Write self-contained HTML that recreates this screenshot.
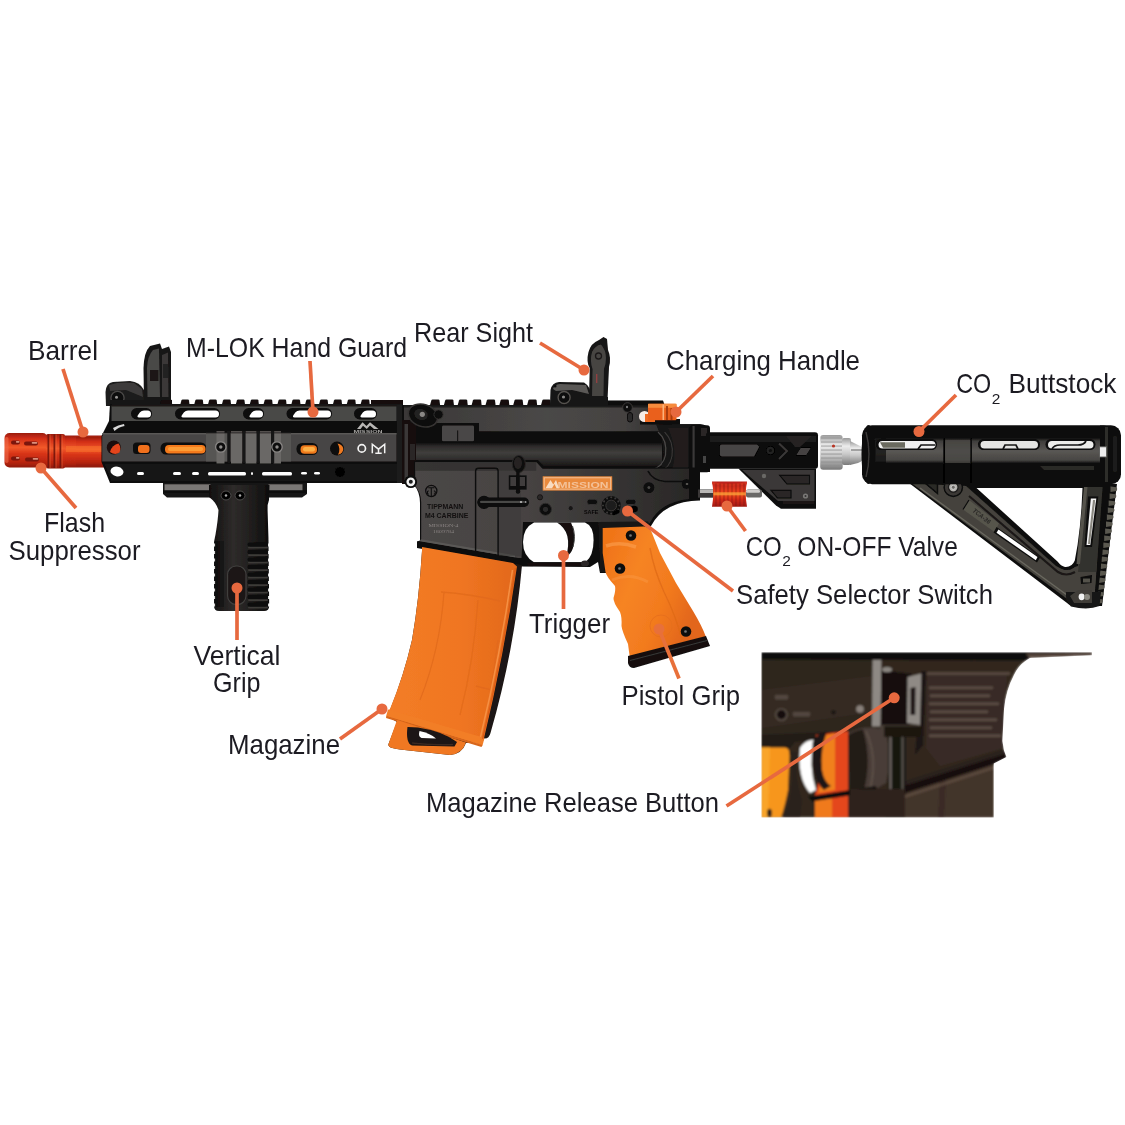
<!DOCTYPE html>
<html lang="en"><head><meta charset="utf-8"><title>Tippmann M4 Carbine parts diagram</title>
<style>html,body{margin:0;padding:0;background:#fff;}body{width:1125px;height:1125px;overflow:hidden;}svg{display:block;}</style>
</head><body>
<svg width="1125" height="1125" viewBox="0 0 1125 1125">
<rect width="1125" height="1125" fill="#fff"/>

<defs>
  <linearGradient id="gBarrel" x1="0" y1="0" x2="0" y2="1">
    <stop offset="0" stop-color="#9a1c0e"/>
    <stop offset="0.16" stop-color="#d22f17"/>
    <stop offset="0.42" stop-color="#f2592a"/>
    <stop offset="0.6" stop-color="#d83418"/>
    <stop offset="0.85" stop-color="#b8240f"/>
    <stop offset="1" stop-color="#8e1a0c"/>
  </linearGradient>
  <linearGradient id="gValve" x1="0" y1="0" x2="0" y2="1">
    <stop offset="0" stop-color="#b8201a"/>
    <stop offset="0.35" stop-color="#e43a1c"/>
    <stop offset="0.5" stop-color="#f0521e"/>
    <stop offset="0.7" stop-color="#d42a18"/>
    <stop offset="1" stop-color="#a01a14"/>
  </linearGradient>
  <linearGradient id="gTube" x1="0" y1="0" x2="0" y2="1">
    <stop offset="0" stop-color="#0c0c0d"/>
    <stop offset="0.25" stop-color="#1a1a1b"/>
    <stop offset="0.55" stop-color="#2b2b2c"/>
    <stop offset="0.8" stop-color="#161617"/>
    <stop offset="1" stop-color="#0a0a0b"/>
  </linearGradient>
  <linearGradient id="gBand" x1="0" y1="0" x2="0" y2="1">
    <stop offset="0" stop-color="#0d0d0d"/>
    <stop offset="0.12" stop-color="#403e3c"/>
    <stop offset="0.5" stop-color="#595754"/>
    <stop offset="0.85" stop-color="#484644"/>
    <stop offset="0.95" stop-color="#1a1a19"/>
    <stop offset="1" stop-color="#0b0b0b"/>
  </linearGradient>
  <linearGradient id="gSilver" x1="0" y1="0" x2="0" y2="1">
    <stop offset="0" stop-color="#9a9a9a"/>
    <stop offset="0.3" stop-color="#ececec"/>
    <stop offset="0.6" stop-color="#c8c8c8"/>
    <stop offset="1" stop-color="#7a7a7a"/>
  </linearGradient>
  <linearGradient id="gUpper" x1="0" y1="0" x2="0" y2="1">
    <stop offset="0" stop-color="#262627"/>
    <stop offset="0.35" stop-color="#2e2e2f"/>
    <stop offset="0.5" stop-color="#0d0d0e"/>
    <stop offset="0.75" stop-color="#1a1a1b"/>
    <stop offset="1" stop-color="#252526"/>
  </linearGradient>
  <linearGradient id="gUpTop" gradientUnits="userSpaceOnUse" x1="402" y1="0" x2="665" y2="0">
    <stop offset="0" stop-color="#3a3837"/>
    <stop offset="0.55" stop-color="#4a4847"/>
    <stop offset="0.85" stop-color="#444241"/>
    <stop offset="1" stop-color="#2e2c2b"/>
  </linearGradient>
  <linearGradient id="gCyl" gradientUnits="userSpaceOnUse" x1="0" y1="442" x2="0" y2="469">
    <stop offset="0" stop-color="#0b0b0b"/>
    <stop offset="0.15" stop-color="#2c2a29"/>
    <stop offset="0.4" stop-color="#403e3d"/>
    <stop offset="0.7" stop-color="#2a2827"/>
    <stop offset="1" stop-color="#0e0e0e"/>
  </linearGradient>
  <linearGradient id="gLowerH" gradientUnits="userSpaceOnUse" x1="414" y1="0" x2="700" y2="0">
    <stop offset="0" stop-color="#4b4746"/>
    <stop offset="0.4" stop-color="#464342"/>
    <stop offset="0.7" stop-color="#363433"/>
    <stop offset="1" stop-color="#282625"/>
  </linearGradient>
  <linearGradient id="gPG" gradientUnits="userSpaceOnUse" x1="600" y1="560" x2="700" y2="600">
    <stop offset="0" stop-color="#f07418"/>
    <stop offset="0.35" stop-color="#f68424"/>
    <stop offset="0.7" stop-color="#f27a1e"/>
    <stop offset="1" stop-color="#e2661a"/>
  </linearGradient>
  <linearGradient id="gMag" x1="0" y1="0" x2="1" y2="0">
    <stop offset="0" stop-color="#f37d26"/>
    <stop offset="0.55" stop-color="#f07622"/>
    <stop offset="1" stop-color="#e2681a"/>
  </linearGradient>
  <linearGradient id="gGrip" x1="0" y1="0" x2="1" y2="0">
    <stop offset="0" stop-color="#100f0f"/>
    <stop offset="0.4" stop-color="#2e2b2a"/>
    <stop offset="0.7" stop-color="#201e1d"/>
    <stop offset="1" stop-color="#0e0d0d"/>
  </linearGradient>
  <filter id="soft" x="-5%" y="-5%" width="110%" height="110%"><feGaussianBlur stdDeviation="0.45"/></filter>
  <filter id="soft2" x="-5%" y="-5%" width="110%" height="110%"><feGaussianBlur stdDeviation="0.9"/></filter>
  <filter id="soft3" x="-10%" y="-10%" width="120%" height="120%"><feGaussianBlur stdDeviation="2.5"/></filter>
</defs>

<g filter="url(#soft)"><rect x="44" y="435.5" width="60" height="32" fill="url(#gBarrel)"/>
<rect x="76" y="437" width="28" height="29.5" fill="url(#gBarrel)"/>
<rect x="4.5" y="433" width="43" height="34.5" rx="5" fill="url(#gBarrel)"/>
<rect x="46" y="434" width="19" height="34.5" rx="2" fill="url(#gBarrel)"/>
<rect x="47.5" y="434.5" width="1.8" height="33.5" fill="#6d1408" opacity="0.85"/>
<rect x="49.5" y="434.5" width="1.2" height="33.5" fill="#f07a4a" opacity="0.35"/>
<rect x="53.5" y="434.5" width="1.8" height="33.5" fill="#6d1408" opacity="0.85"/>
<rect x="55.5" y="434.5" width="1.2" height="33.5" fill="#f07a4a" opacity="0.35"/>
<rect x="59.5" y="434.5" width="1.8" height="33.5" fill="#6d1408" opacity="0.85"/>
<rect x="61.5" y="434.5" width="1.2" height="33.5" fill="#f07a4a" opacity="0.35"/>
<rect x="11" y="440.5" width="9" height="4" rx="2" fill="#7a150a"/>
<rect x="15.9" y="441.1" width="3.6" height="1.6" rx="0.8" fill="#f3b09a" opacity="0.8"/>
<rect x="24" y="441.5" width="14" height="4" rx="2" fill="#7a150a"/>
<rect x="31.7" y="442.1" width="5.6" height="1.6" rx="0.8" fill="#f3b09a" opacity="0.8"/>
<rect x="11" y="456.5" width="9" height="4" rx="2" fill="#7a150a"/>
<rect x="15.9" y="457.1" width="3.6" height="1.6" rx="0.8" fill="#f3b09a" opacity="0.8"/>
<rect x="25" y="457.5" width="14" height="4" rx="2" fill="#7a150a"/>
<rect x="32.7" y="458.1" width="5.6" height="1.6" rx="0.8" fill="#f3b09a" opacity="0.8"/>
<rect x="5" y="437" width="3.5" height="26" rx="1.7" fill="#ee6a4a" opacity="0.6"/>
<rect x="66" y="446" width="38" height="6" fill="#f8742e" opacity="0.55"/>
<path d="M106 406 L105.5 392 Q106 383 113 382 L130 381 Q140 382 144 390 L146 406 Z" fill="#1c1b1a"/>
<path d="M109 385 Q120 381.5 134 383 L142 389 L143 397 L126 390 L110 391Z" fill="#3d3b3a"/>
<path d="M144 402 L143.5 368 Q144 352 150 346 L160 343.5 L162 349 L169 346.5 L171 352 L171 401 Z" fill="#161515"/>
<path d="M147.5 397 L147 368 Q147.5 356 153 350 L159 348.5 L160 397 Z" fill="#4a4847"/>
<path d="M162 397 L162 355 L168 352.5 L168.5 397 Z" fill="#3a3837"/>
<rect x="150" y="370" width="8.5" height="11" fill="#1a1919"/>
<rect x="163" y="364" width="5" height="14" fill="#222120"/>
<circle cx="117.5" cy="398" r="6.6" fill="#0a0a0a" stroke="#4a4847" stroke-width="1.4"/>
<circle cx="116.5" cy="397.3" r="1.5" fill="#9a9896"/>
<rect x="110" y="400" width="62" height="7" fill="#141313"/>
<path d="M159.5 405.5 L160.9 400.4 Q161.2 399.6 162.1 399.6 L170.7 399.6 Q171.5 399.6 171.7 400.4 L172.3 405.5Z" fill="#121111"/><path d="M180.0 405.5 L181.4 400.4 Q181.7 399.6 182.6 399.6 L188.0 399.6 Q188.8 399.6 189.0 400.4 L189.6 405.5Z" fill="#121111"/><path d="M193.9 405.5 L195.3 400.4 Q195.6 399.6 196.5 399.6 L201.9 399.6 Q202.7 399.6 202.9 400.4 L203.5 405.5Z" fill="#121111"/><path d="M207.7 405.5 L209.1 400.4 Q209.4 399.6 210.3 399.6 L215.7 399.6 Q216.5 399.6 216.7 400.4 L217.3 405.5Z" fill="#121111"/><path d="M221.6 405.5 L223.0 400.4 Q223.3 399.6 224.2 399.6 L229.6 399.6 Q230.4 399.6 230.6 400.4 L231.2 405.5Z" fill="#121111"/><path d="M235.5 405.5 L236.9 400.4 Q237.2 399.6 238.1 399.6 L243.5 399.6 Q244.3 399.6 244.5 400.4 L245.1 405.5Z" fill="#121111"/><path d="M249.4 405.5 L250.8 400.4 Q251.1 399.6 252.0 399.6 L257.4 399.6 Q258.2 399.6 258.4 400.4 L259.0 405.5Z" fill="#121111"/><path d="M263.2 405.5 L264.6 400.4 Q264.9 399.6 265.8 399.6 L271.2 399.6 Q272.0 399.6 272.2 400.4 L272.8 405.5Z" fill="#121111"/><path d="M277.1 405.5 L278.5 400.4 Q278.8 399.6 279.7 399.6 L285.1 399.6 Q285.9 399.6 286.1 400.4 L286.7 405.5Z" fill="#121111"/><path d="M291.0 405.5 L292.4 400.4 Q292.7 399.6 293.6 399.6 L299.0 399.6 Q299.8 399.6 300.0 400.4 L300.6 405.5Z" fill="#121111"/><path d="M304.8 405.5 L306.2 400.4 Q306.5 399.6 307.4 399.6 L312.8 399.6 Q313.6 399.6 313.8 400.4 L314.4 405.5Z" fill="#121111"/><path d="M318.7 405.5 L320.1 400.4 Q320.4 399.6 321.3 399.6 L326.7 399.6 Q327.5 399.6 327.7 400.4 L328.3 405.5Z" fill="#121111"/><path d="M332.6 405.5 L334.0 400.4 Q334.3 399.6 335.2 399.6 L340.6 399.6 Q341.4 399.6 341.6 400.4 L342.2 405.5Z" fill="#121111"/><path d="M346.4 405.5 L347.8 400.4 Q348.1 399.6 349.0 399.6 L354.4 399.6 Q355.2 399.6 355.4 400.4 L356.0 405.5Z" fill="#121111"/><path d="M360.3 405.5 L361.7 400.4 Q362.0 399.6 362.9 399.6 L368.3 399.6 Q369.1 399.6 369.3 400.4 L369.9 405.5Z" fill="#121111"/><rect x="371" y="400" width="32" height="5.5" fill="#121111"/><path d="M429.9 405.5 L431.3 400.4 Q431.6 399.6 432.5 399.6 L438.5 399.6 Q439.3 399.6 439.5 400.4 L440.1 405.5Z" fill="#121111"/><path d="M443.8 405.5 L445.2 400.4 Q445.5 399.6 446.4 399.6 L452.4 399.6 Q453.2 399.6 453.4 400.4 L454.0 405.5Z" fill="#121111"/><path d="M457.6 405.5 L459.0 400.4 Q459.3 399.6 460.2 399.6 L466.2 399.6 Q467.0 399.6 467.2 400.4 L467.8 405.5Z" fill="#121111"/><path d="M471.5 405.5 L472.9 400.4 Q473.2 399.6 474.1 399.6 L480.1 399.6 Q480.9 399.6 481.1 400.4 L481.7 405.5Z" fill="#121111"/><path d="M485.4 405.5 L486.8 400.4 Q487.1 399.6 488.0 399.6 L494.0 399.6 Q494.8 399.6 495.0 400.4 L495.6 405.5Z" fill="#121111"/><path d="M499.2 405.5 L500.6 400.4 Q500.9 399.6 501.9 399.6 L507.8 399.6 Q508.6 399.6 508.8 400.4 L509.4 405.5Z" fill="#121111"/><path d="M513.1 405.5 L514.5 400.4 Q514.8 399.6 515.7 399.6 L521.7 399.6 Q522.5 399.6 522.7 400.4 L523.3 405.5Z" fill="#121111"/><path d="M527.0 405.5 L528.4 400.4 Q528.7 399.6 529.6 399.6 L535.6 399.6 Q536.4 399.6 536.6 400.4 L537.2 405.5Z" fill="#121111"/><path d="M540.9 405.5 L542.3 400.4 Q542.6 399.6 543.5 399.6 L549.5 399.6 Q550.3 399.6 550.5 400.4 L551.1 405.5Z" fill="#121111"/>
<path d="M110 404 L403 404 L403 483 L110 483 L101.5 462 L101.5 436 L109 421 Z" fill="#0c0c0c"/>
<rect x="111.5" y="406" width="285" height="15" fill="#4a4847"/>
<rect x="111.5" y="404.3" width="291" height="2.2" fill="#1a1919"/>
<path d="M102.2 436.5 L104 433 L396.5 433 L396.5 461.5 L102.2 461.5Z" fill="#474544"/>
<rect x="102.2" y="433" width="294.3" height="1.5" fill="#5a5856"/>
<path d="M104 464 L397 464 L397 481 L111 481Z" fill="#121212"/>
<rect x="397" y="405" width="6" height="78" fill="#1b1a1a"/>
<rect x="131" y="408" width="21" height="11.5" rx="5.7" fill="#0a0a0a"/>
<path d="M139 417.5 Q136.5 417.5 138 415 L140 412.2 Q141.5 410.4 144 410.4 L147.5 410.4 Q151 410.6 151 414 Q151 417.5 147.5 417.5Z" fill="#fff"/>
<rect x="175" y="408" width="45" height="11.5" rx="5.7" fill="#0a0a0a"/>
<path d="M183 417.5 Q180.5 417.5 182 415 L184 412.2 Q185.5 410.4 188 410.4 L215.5 410.4 Q219 410.6 219 414 Q219 417.5 215.5 417.5Z" fill="#fff"/>
<rect x="243" y="408" width="21" height="11.5" rx="5.7" fill="#0a0a0a"/>
<path d="M251 417.5 Q248.5 417.5 250 415 L252 412.2 Q253.5 410.4 256 410.4 L259.5 410.4 Q263 410.6 263 414 Q263 417.5 259.5 417.5Z" fill="#fff"/>
<rect x="286.5" y="408" width="45.5" height="11.5" rx="5.7" fill="#0a0a0a"/>
<path d="M294.5 417.5 Q292.0 417.5 293.5 415 L295.5 412.2 Q297.0 410.4 299.5 410.4 L327.5 410.4 Q331 410.6 331 414 Q331 417.5 327.5 417.5Z" fill="#fff"/>
<rect x="354" y="408" width="23" height="11.5" rx="5.7" fill="#0a0a0a"/>
<path d="M362 417.5 Q359.5 417.5 361 415 L363 412.2 Q364.5 410.4 367 410.4 L372.5 410.4 Q376 410.6 376 414 Q376 417.5 372.5 417.5Z" fill="#fff"/>
<circle cx="113.8" cy="447.5" r="7" fill="#1a0d0a"/>
<path d="M110 452 Q112 444.5 118.5 443.5 Q121.5 447.5 119.5 452.5 Q115 455.5 110 452Z" fill="#e4441c"/>
<rect x="133" y="442.5" width="17.5" height="11.5" rx="3.5" fill="#0d0d0d"/>
<rect x="138" y="445" width="11.5" height="8" rx="3" fill="#f1701e"/>
<rect x="160.5" y="442.5" width="46" height="12" rx="5.5" fill="#0d0d0d"/>
<rect x="165" y="445" width="40.5" height="8.5" rx="4" fill="#f47a1c"/>
<rect x="168" y="447" width="35" height="4" rx="2" fill="#fd9c35"/>
<rect x="296.5" y="443" width="21.5" height="12" rx="5.5" fill="#0d0d0d"/>
<rect x="300.5" y="445.3" width="16.5" height="8.5" rx="4" fill="#f07a1e"/>
<rect x="303" y="447" width="12" height="4.5" rx="2.2" fill="#fdb044"/>
<circle cx="337" cy="448.6" r="7" fill="#0b0b0b"/>
<path d="M337.5 443.5 Q343 444.5 343.3 449 Q343 453.5 338 454.8 Q341 449 337.5 443.5Z" fill="#ee7a22"/>
<rect x="206" y="433" width="85" height="28.5" fill="#575553"/>
<rect x="216.5" y="431" width="8" height="32.5" fill="#6b6866"/>
<rect x="231" y="431" width="11.3" height="32.5" fill="#6b6866"/>
<rect x="245.4" y="431" width="11.2" height="32.5" fill="#6b6866"/>
<rect x="259.7" y="431" width="11.3" height="32.5" fill="#6b6866"/>
<rect x="273.5" y="431" width="7.5" height="32.5" fill="#6b6866"/>
<rect x="227.3" y="431" width="3.2" height="32.5" fill="#141313"/>
<rect x="242.3" y="431" width="3.2" height="32.5" fill="#141313"/>
<rect x="256.6" y="431" width="3.2" height="32.5" fill="#141313"/>
<rect x="271" y="431" width="3.2" height="32.5" fill="#141313"/>
<rect x="206" y="431.5" width="85" height="2" fill="#1a1919" opacity="0.6"/>
<circle cx="220.8" cy="447" r="5.2" fill="#0d0d0d" stroke="#8a8886" stroke-width="1.3"/>
<circle cx="220.8" cy="447" r="1.7" fill="#8f8d8b"/>
<circle cx="277" cy="447" r="5.2" fill="#0d0d0d" stroke="#8a8886" stroke-width="1.3"/>
<circle cx="277" cy="447" r="1.7" fill="#8f8d8b"/>
<ellipse cx="117" cy="471.5" rx="6.6" ry="4.8" fill="#fff" transform="rotate(12 117 471.5)"/>
<rect x="137" y="472" width="7" height="3" rx="1.5" fill="#fff"/>
<rect x="173" y="472" width="8" height="3" rx="1.5" fill="#fff"/>
<rect x="192" y="472" width="7" height="3" rx="1.5" fill="#fff"/>
<rect x="208" y="472" width="38" height="3.6" rx="1.5" fill="#fff"/>
<rect x="251" y="472" width="2" height="3" rx="1.5" fill="#fff"/>
<rect x="262" y="472" width="30" height="3.6" rx="1.5" fill="#fff"/>
<rect x="301" y="472" width="6" height="2.5" rx="1.5" fill="#fff"/>
<rect x="314" y="472" width="6" height="2.5" rx="1.5" fill="#fff"/>
<circle cx="340" cy="472" r="5" fill="#050505"/>
<path d="M113 428 Q118 425 124 424 L124.5 426 Q118.5 427 114.5 431Z" fill="#d8d8d8"/>
<circle cx="361.8" cy="448.4" r="3.7" fill="none" stroke="#f2f2f2" stroke-width="1.7"/>
<path d="M372.3 453.3 L372.3 444.2 L378.5 449.2 L384.7 444.2 L384.7 453.3 M375.3 453.2 L381.7 453.2 M378.5 449.5 L378.5 453" fill="none" stroke="#f2f2f2" stroke-width="1.5"/>
<path d="M357 429 L362.5 422.3 L366.5 426 L370 422.3 L378.5 429 L374 429 L370 425.6 L366.8 429 L363 425.8 L360.5 429Z" fill="#b8b6b4"/>
<text x="353.5" y="432.8" font-family="'Liberation Sans', Arial, sans-serif" font-weight="bold" font-size="3.6" textLength="29" lengthAdjust="spacingAndGlyphs" fill="#a9a7a5">MISSION</text>
<path d="M163 483 L307 483 L307 494 L302 497.5 L167 497.5 L163 494Z" fill="#141313"/>
<rect x="164.5" y="484.3" width="46" height="6.2" fill="#7a7775"/>
<rect x="268.5" y="484.3" width="34" height="6.2" fill="#7a7775"/>
<rect x="163" y="490.5" width="144" height="1.6" fill="#090909"/>
<path d="M209 485 L269.5 485 L269 500 Q267 505 267.6 510 L268.5 540 L269.2 606 Q269.2 611 264 611 L219 611 Q214 611 214 606 L214 542 L215.6 534 Q218 520 218.5 510 Q216 502 209 497Z" fill="url(#gGrip)"/>
<rect x="247.5" y="542.5" width="19" height="4.2" rx="2.1" fill="#090909"/>
<rect x="248" y="546.7" width="20" height="1.8" rx="0.9" fill="#3c3a39"/>
<rect x="213.2" y="543.5" width="2" height="3" fill="#fff" opacity="0.85"/>
<rect x="268" y="543.5" width="2" height="3" fill="#fff" opacity="0.85"/>
<rect x="247.5" y="550.0" width="19" height="4.2" rx="2.1" fill="#090909"/>
<rect x="248" y="554.2" width="20" height="1.8" rx="0.9" fill="#3c3a39"/>
<rect x="213.2" y="551.0" width="2" height="3" fill="#fff" opacity="0.85"/>
<rect x="268" y="551.0" width="2" height="3" fill="#fff" opacity="0.85"/>
<rect x="247.5" y="557.5" width="19" height="4.2" rx="2.1" fill="#090909"/>
<rect x="248" y="561.7" width="20" height="1.8" rx="0.9" fill="#3c3a39"/>
<rect x="213.2" y="558.5" width="2" height="3" fill="#fff" opacity="0.85"/>
<rect x="268" y="558.5" width="2" height="3" fill="#fff" opacity="0.85"/>
<rect x="247.5" y="565.0" width="19" height="4.2" rx="2.1" fill="#090909"/>
<rect x="248" y="569.2" width="20" height="1.8" rx="0.9" fill="#3c3a39"/>
<rect x="213.2" y="566.0" width="2" height="3" fill="#fff" opacity="0.85"/>
<rect x="268" y="566.0" width="2" height="3" fill="#fff" opacity="0.85"/>
<rect x="247.5" y="572.5" width="19" height="4.2" rx="2.1" fill="#090909"/>
<rect x="248" y="576.7" width="20" height="1.8" rx="0.9" fill="#3c3a39"/>
<rect x="213.2" y="573.5" width="2" height="3" fill="#fff" opacity="0.85"/>
<rect x="268" y="573.5" width="2" height="3" fill="#fff" opacity="0.85"/>
<rect x="247.5" y="580.0" width="19" height="4.2" rx="2.1" fill="#090909"/>
<rect x="248" y="584.2" width="20" height="1.8" rx="0.9" fill="#3c3a39"/>
<rect x="213.2" y="581.0" width="2" height="3" fill="#fff" opacity="0.85"/>
<rect x="268" y="581.0" width="2" height="3" fill="#fff" opacity="0.85"/>
<rect x="247.5" y="587.5" width="19" height="4.2" rx="2.1" fill="#090909"/>
<rect x="248" y="591.7" width="20" height="1.8" rx="0.9" fill="#3c3a39"/>
<rect x="213.2" y="588.5" width="2" height="3" fill="#fff" opacity="0.85"/>
<rect x="268" y="588.5" width="2" height="3" fill="#fff" opacity="0.85"/>
<rect x="247.5" y="595.0" width="19" height="4.2" rx="2.1" fill="#090909"/>
<rect x="248" y="599.2" width="20" height="1.8" rx="0.9" fill="#3c3a39"/>
<rect x="213.2" y="596.0" width="2" height="3" fill="#fff" opacity="0.85"/>
<rect x="268" y="596.0" width="2" height="3" fill="#fff" opacity="0.85"/>
<rect x="247.5" y="602.5" width="19" height="4.2" rx="2.1" fill="#090909"/>
<rect x="248" y="606.7" width="20" height="1.8" rx="0.9" fill="#3c3a39"/>
<rect x="213.2" y="603.5" width="2" height="3" fill="#fff" opacity="0.85"/>
<rect x="268" y="603.5" width="2" height="3" fill="#fff" opacity="0.85"/>
<rect x="215" y="541" width="9" height="66" fill="#0c0c0c" opacity="0.6"/>
<rect x="227.6" y="566" width="18.4" height="38.5" rx="8.5" fill="#1a1918" stroke="#434140" stroke-width="1.1"/>
<ellipse cx="226" cy="495.5" rx="5" ry="4.5" fill="#060606" stroke="#4c4a49" stroke-width="1"/>
<ellipse cx="240" cy="495.5" rx="5" ry="4.5" fill="#060606" stroke="#4c4a49" stroke-width="1"/>
<circle cx="226" cy="495.5" r="1.2" fill="#aaa"/>
<circle cx="240" cy="495.5" r="1.2" fill="#aaa"/>
<path d="M402 405 L608 405 L608 400.6 L663 400.6 L665 406 L672 424.3 L700 424.3 Q710 425 710 434 L710 472 L402 472 Z" fill="#0c0c0c"/>
<path d="M404 407 L662 407 L663.5 431.3 L479 431.3 L479 423 L404 423 Z" fill="url(#gUpTop)"/>
<rect x="404" y="405.5" width="258" height="2" fill="#1d1c1b"/>
<rect x="416" y="442" width="246" height="27" fill="url(#gCyl)"/>
<path d="M416 460 L538 460 L544 466.5 L662 466.5 L662 469.5 L542 469.5 L536 463 L416 463Z" fill="#0a0a0a"/>
<rect x="402" y="420" width="14" height="64" fill="#121111"/>
<rect x="404.5" y="424" width="3.5" height="56" fill="#3a3837"/>
<rect x="410" y="444" width="5" height="16" fill="#2a2827"/>
<ellipse cx="423" cy="415.5" rx="15" ry="11" fill="#0a0a0a" stroke="#353332" stroke-width="1.6" transform="rotate(18 423 415.5)"/>
<ellipse cx="421" cy="414.5" rx="7" ry="5.5" fill="#242221" transform="rotate(18 421 414.5)"/>
<circle cx="422.3" cy="414.3" r="2.6" fill="#8a8886"/>
<circle cx="438.5" cy="414.5" r="4.6" fill="#0a0a0a" stroke="#353332" stroke-width="1"/>
<rect x="440.5" y="423.3" width="36" height="20" rx="2" fill="#0a0a0a"/>
<rect x="442" y="425.6" width="32" height="15.7" rx="1.2" fill="#4a4746"/>
<rect x="457" y="430.5" width="1.2" height="10.8" fill="#141313"/>
<path d="M656 424.3 L700 424.3 Q710 425 710 434 L710 472 L660 472 Q668 450 656 424.3Z" fill="#141313"/>
<path d="M658 432 Q667.5 440 665.5 455 Q663.5 466 652 470" fill="none" stroke="#4a4847" stroke-width="1.3"/>
<path d="M664.5 432 Q674 441 672 456 Q670 468 659 472" fill="none" stroke="#3a3837" stroke-width="1.2"/>
<path d="M668 428 L688 428 L688 470 L672 470 Q678 450 668 428Z" fill="#201f1e"/>
<rect x="689.5" y="425.3" width="20.5" height="47" rx="3" fill="#0e0e0e"/>
<rect x="692.5" y="426" width="2.2" height="45" fill="#3a3837"/>
<rect x="701" y="428" width="6" height="8" fill="#2a2827"/>
<rect x="703" y="456" width="5" height="7" fill="#444"/>
<circle cx="627.5" cy="407.5" r="4.8" fill="#0a0a0a" stroke="#3f3d3c" stroke-width="1"/>
<circle cx="627" cy="407" r="1.2" fill="#777"/>
<rect x="627.5" y="412.5" width="5" height="9.5" rx="2.5" fill="#2c2a29" stroke="#0a0a0a" stroke-width="1"/>
<path d="M414 461 L537 461 L543 467.5 L700 467.5 L700 500.5 Q664 501 651 526 L606 527 L606 573 L600 573 L598 562 L590 567 L523 566.5 L523 560 L515 561 L417 545 L417 541.5 L420 540.5 L420 503 Q420 492 414 485 Z" fill="#0c0c0c"/>
<path d="M415.2 462.3 L536.5 462.3 L542.5 468.8 L689 468.8 L689 499 Q660 502 649.5 523.5 L604 525.5 L598 522 L523 522 L521.5 558 L515.5 558 L421.2 541 L421.2 502 Q421 492.5 415.2 486 Z" fill="url(#gLowerH)"/>
<rect x="415.2" y="462.3" width="121" height="8.5" fill="#2f2d2c" opacity="0.75"/>
<path d="M417 541.5 L515 557.5 L523 559 L523 566.5 L515 565.5 L417 548Z" fill="#0a0a0a"/>
<path d="M421 539.3 L515 555.2 L515 557.2 L419.5 541.2Z" fill="#5a5856"/>
<path d="M475.6 553 L475.6 471 Q475.6 468.3 478.5 468.3 L495.2 468.3 Q498.1 468.3 498.1 471 L498.1 556.5" fill="none" stroke="#0d0d0d" stroke-width="1.4"/>
<rect x="499" y="470" width="22" height="86" fill="#3a3736" opacity="0.5"/>
<circle cx="410.8" cy="481.8" r="6.3" fill="#0a0a0a"/>
<circle cx="410.8" cy="481.8" r="3.2" fill="#1a1a1a" stroke="#f4f4f4" stroke-width="2.4"/>
<ellipse cx="518.8" cy="464" rx="6.6" ry="8.6" fill="#0d0d0d" stroke="#2a2827" stroke-width="1"/>
<ellipse cx="518" cy="463" rx="4" ry="6" fill="#262423"/>
<rect x="508.8" y="475.4" width="17.8" height="14.2" fill="#0a0a0a"/>
<rect x="510.3" y="477" width="6" height="9" fill="#3f3d3c"/>
<rect x="519.5" y="477" width="5.5" height="9" fill="#3f3d3c"/>
<rect x="516.3" y="470" width="3.2" height="22" fill="#0a0a0a"/>
<circle cx="518" cy="491.5" r="2.2" fill="#0a0a0a"/>
<rect x="477.5" y="497.5" width="51.5" height="9.5" rx="4.7" fill="#0a0a0a"/>
<circle cx="484" cy="502.4" r="6.6" fill="#0a0a0a"/>
<rect x="480" y="500.8" width="44" height="2.2" rx="1" fill="#4a4847"/>
<circle cx="521" cy="502" r="1.1" fill="#bbb"/>
<circle cx="525.5" cy="502" r="1.1" fill="#999"/>
<rect x="542.7" y="476.3" width="69.5" height="14.3" fill="#e98a3e"/>
<rect x="544.2" y="477.8" width="66.5" height="11.3" fill="none" stroke="#f6cba4" stroke-width="0.8"/>
<text x="557.5" y="487.5" font-family="'Liberation Sans', Arial, sans-serif" font-weight="bold" font-size="8.6" textLength="51" lengthAdjust="spacingAndGlyphs" fill="#f4c298">MISSION</text>
<path d="M545.5 488.3 L550.5 480 L553.3 484.5 L556 480 L559 488.3 L556.5 488.3 L554.5 484 L552 488.3Z" fill="#f8dcc2"/>
<circle cx="545.5" cy="509.3" r="6" fill="#0b0b0b" stroke="#2f2d2c" stroke-width="1"/>
<circle cx="545.5" cy="509.3" r="2.6" fill="#2c2a29"/>
<circle cx="570.7" cy="508.2" r="2.6" fill="#161515" stroke="#4a4847" stroke-width="0.8"/>
<circle cx="540" cy="497.3" r="2.6" fill="#2a2827" stroke="#141313" stroke-width="0.9"/>
<rect x="587" y="499.3" width="10.5" height="5.2" rx="2.6" fill="#0a0a0a" stroke="#3a3837" stroke-width="0.8"/>
<rect x="625.5" y="499.3" width="10.5" height="5.2" rx="2.6" fill="#0a0a0a" stroke="#3a3837" stroke-width="0.8"/>
<circle cx="611.2" cy="505.5" r="9.6" fill="#0a0a0a"/>
<circle cx="611.2" cy="505.5" r="5.4" fill="#1f1e1d" stroke="#3a3837" stroke-width="1"/>
<circle cx="619.4" cy="505.5" r="1.1" fill="#3a3837"/>
<circle cx="618.3" cy="509.6" r="1.1" fill="#3a3837"/>
<circle cx="615.3" cy="512.6" r="1.1" fill="#3a3837"/>
<circle cx="611.2" cy="513.7" r="1.1" fill="#3a3837"/>
<circle cx="607.1" cy="512.6" r="1.1" fill="#3a3837"/>
<circle cx="604.1" cy="509.6" r="1.1" fill="#3a3837"/>
<circle cx="603.0" cy="505.5" r="1.1" fill="#3a3837"/>
<circle cx="604.1" cy="501.4" r="1.1" fill="#3a3837"/>
<circle cx="607.1" cy="498.4" r="1.1" fill="#3a3837"/>
<circle cx="611.2" cy="497.3" r="1.1" fill="#3a3837"/>
<circle cx="615.3" cy="498.4" r="1.1" fill="#3a3837"/>
<circle cx="618.3" cy="501.4" r="1.1" fill="#3a3837"/>
<ellipse cx="616" cy="512.5" rx="4" ry="2" fill="#050505" transform="rotate(-25 616 512.5)"/>
<ellipse cx="634" cy="509" rx="4" ry="3.2" fill="#050505"/>
<circle cx="648.9" cy="487.6" r="5.4" fill="#080808"/>
<circle cx="648.9" cy="487.6" r="1.5" fill="#4a4847"/>
<circle cx="686.6" cy="484" r="4.8" fill="#080808"/>
<circle cx="687" cy="484" r="1.3" fill="#55524f"/>
<path d="M648 471 Q652 480 665 481.5 L688 481.5" fill="none" stroke="#0c0c0c" stroke-width="1.6"/>
<path d="M689 469 L700 469 L700 500 L689 500Z" fill="#0e0e0e"/>
<circle cx="431.3" cy="491" r="5.6" fill="none" stroke="#0c0c0d" stroke-width="1.2"/>
<path d="M428.3 487.8 L434.3 487.8 M431.3 487.8 L431.3 496 M434 490.6 Q436.8 492.3 434 494.4 M428.6 490.6 Q426 492.3 428.6 494.4" fill="none" stroke="#0c0c0d" stroke-width="1.1"/>
<text x="427" y="508.9" font-family="'Liberation Sans', Arial, sans-serif" font-weight="bold" font-size="7" textLength="36.3" lengthAdjust="spacingAndGlyphs" fill="#121111">TIPPMANN</text>
<text x="425" y="518.2" font-family="'Liberation Sans', Arial, sans-serif" font-weight="bold" font-size="7" textLength="43.3" lengthAdjust="spacingAndGlyphs" fill="#121111">M4 CARBINE</text>
<text x="428.4" y="526.6" font-family="'Liberation Serif', serif" font-size="5" textLength="30" lengthAdjust="spacingAndGlyphs" fill="#8a8684">MISSION-4</text>
<text x="432.7" y="533" font-family="'Liberation Serif', serif" font-size="4.8" textLength="21.5" lengthAdjust="spacingAndGlyphs" fill="#85817f">1809784</text>
<text x="584" y="513.8" font-family="'Liberation Sans', Arial, sans-serif" font-weight="bold" font-size="5.6" textLength="14.4" lengthAdjust="spacingAndGlyphs" fill="#080808">SAFE</text>
<path d="M534 522.6 L585 522.6 Q593.6 526 593.6 540 Q593.6 556 585.5 562.2 L534 562.2 Q523 556 523 542 Q523 528 534 522.6Z" fill="#fff"/>
<path d="M526 562.2 L584 562.2 L586 566 L528 566Z" fill="#121111"/>
<ellipse cx="585" cy="563.5" rx="4" ry="3" fill="#2a2827"/>
<path d="M557 522.6 L571 522.6 Q576.5 534 573 548 Q571 554 566 557 Q569.5 545 567.3 536 Q565 527.5 557 522.6Z" fill="#121111"/>
<path d="M572.5 526 Q576 536 573 547" fill="none" stroke="#3a3837" stroke-width="1"/>
<path d="M422 547 L513 563 L522 565 Q514.5 650 490.5 733 Q489 739 484 738.5 L483 741 L466 743 Q462 754 450 755 L400 749.5 Q387 748 388.5 744 L397 722 L387 716 L390 710 Q404 675 412 640 Q419 600 422 551Z" fill="#1c1512"/>
<path d="M422 547 L513 563 L517 566.5 Q503.8 656 483.5 740.5 L387.5 711 L390 709 Q404 675 412 640 Q419 600 422 551Z" fill="url(#gMag)"/>
<path d="M388 709.5 L484.5 738 L482.5 745.5 L386 716.5Z" fill="#f27e28"/>
<path d="M386.5 716 L482.5 745 L481.5 747 L386 718Z" fill="#d8661a"/>
<path d="M397 720 L466 742.5 Q462 754 450 755 L400 749.5 Q387 748 388.5 744Z" fill="#f07822"/>
<path d="M407.5 727 L418 727.5 Q442 731 457 742 L454.5 746.5 L412 745.5 Q405.5 743 407.5 727Z" fill="#1a1412"/>
<path d="M419.5 731 Q430 733 436 738.5 L421.5 738 Q418 736.5 419.5 731Z" fill="#fff"/>
<path d="M412 743 Q432 745.5 453 744.5" fill="none" stroke="#3a2a22" stroke-width="1.5"/>
<path d="M441 592 Q470 594 500 601 M444 592 Q440 650 420 700 M478 600 Q474 660 460 715 M498 640 L491 690 L476 686" fill="none" stroke="#e06a1c" stroke-width="1.3" opacity="0.75"/>
<path d="M512.5 570 Q500.5 655 480.5 737" fill="none" stroke="#f8954a" stroke-width="1.6" opacity="0.85"/>
<path d="M515.5 568 Q502.8 656 482.6 739" fill="none" stroke="#d85a18" stroke-width="1.2" opacity="0.9"/>
<path d="M598 522 L648 521.5 L652 530 L604 530 L605 572 L600 572Z" fill="#141313"/>
<path d="M602.7 528 L644 526.5 Q650 527.5 652 533 L660 553 L676 583 L693 611 Q702 626 706 637 L630 659 L628 644 Q622 631 621.5 626 Q622 617 620 612 Q613 602 613.5 598 Q616 590 615 586 Q606 576 605.5 572 L602.7 553 Z" fill="url(#gPG)"/>
<path d="M628 656 L706 636 L710 646 L634 668 Q629 668 628 663Z" fill="#121111"/>
<path d="M630 660.5 L707 640.5" stroke="#3a3837" stroke-width="1" fill="none"/>
<path d="M650 548 Q654 570 664 592 Q676 616 682 640" fill="none" stroke="#e06a18" stroke-width="1.4" opacity="0.8"/>
<path d="M606 546 Q620 541 636 547" fill="none" stroke="#fba050" stroke-width="3.5" opacity="0.6"/>
<path d="M612 580 Q630 572 648 582" fill="none" stroke="#fba050" stroke-width="3" opacity="0.35"/>
<circle cx="661" cy="626" r="11" fill="none" stroke="#e56e1c" stroke-width="1" opacity="0.8"/>
<circle cx="631" cy="535.5" r="5.3" fill="#111010"/>
<circle cx="630.5" cy="535.5" r="1.3" fill="#777"/>
<circle cx="620" cy="568.5" r="5.3" fill="#111010"/>
<circle cx="619.5" cy="568.5" r="1.3" fill="#777"/>
<circle cx="686" cy="631.5" r="5.3" fill="#111010"/>
<circle cx="685.5" cy="631.5" r="1.3" fill="#777"/>
<path d="M550 405 L550.5 390 Q552 382.5 559 382 L584 382.5 Q590 386 592 396 L608 397 L608 405Z" fill="#161515"/>
<path d="M553 389 Q554 384.5 560 384 L586 385 L589 394 L572 390 L556 391Z" fill="#5a5856"/>
<path d="M589 400 L589.7 368 Q586 362 588.5 352 Q591 343 599 340 L603.5 337 L607 339 L608 350 Q611.5 358 609 367 L607.5 399.5Z" fill="#141313"/>
<path d="M592 396 L592.5 369 Q589.5 360 592 352 Q595 345.5 601 344.5 Q606 350 606 358 Q606 364 604 369 L603.5 396Z" fill="#464443"/>
<circle cx="598.5" cy="356" r="3" fill="none" stroke="#1a1919" stroke-width="1.3"/>
<rect x="596" y="374" width="1.4" height="9" fill="#b04040" opacity="0.7"/>
<circle cx="564.1" cy="397.5" r="6" fill="#0a0a0a" stroke="#55524f" stroke-width="1.4"/>
<circle cx="563.5" cy="397" r="1.6" fill="#8a8886"/>
<circle cx="555" cy="386" r="1.6" fill="#111"/>
<rect x="640" y="419" width="40" height="5.5" fill="#0a0a0a"/>
<ellipse cx="644.5" cy="416.5" rx="5.5" ry="5.5" fill="#f6ece6"/>
<rect x="645" y="414" width="10" height="8" fill="#ee6a20"/>
<rect x="648" y="403.8" width="28.5" height="16.5" rx="1.2" fill="#ea611a"/>
<rect x="648" y="403.8" width="28.5" height="4" fill="#f68b3e"/>
<rect x="662.5" y="404.5" width="1.6" height="15.5" fill="#fbb27c"/>
<rect x="666" y="406" width="2" height="14" fill="#a93c0c"/>
<rect x="670.5" y="408" width="2" height="12" fill="#a93c0c"/>
<rect x="706" y="432.3" width="112" height="36.5" rx="3" fill="#0c0c0c"/>
<rect x="710" y="436" width="106" height="6" fill="#1c1b1a"/>
<path d="M721.5 444 L757.5 444 L760 446.5 L754.5 457 L722 457 Q719.3 457 719.3 454.5 L719.3 446.2 Q719.3 444 721.5 444Z" fill="#474544" stroke="#050505" stroke-width="1.2"/>
<circle cx="770.4" cy="450.5" r="4.3" fill="#232221" stroke="#050505" stroke-width="1.2"/>
<circle cx="770.4" cy="450.5" r="1.6" fill="#0a0a0a"/>
<path d="M779 443.5 L787 451 L779 459" fill="none" stroke="#3a3837" stroke-width="2"/>
<path d="M795.5 455.5 L800.5 447.5 L811.5 447.5 L806.5 455.5Z" fill="#454342" stroke="#050505" stroke-width="1"/>
<path d="M786 436 L812 436 L800 447 L795 447Z" fill="#252423"/>
<path d="M738.4 468.5 L816 468.5 L816 508.8 L781 508.8 L776 505.5Z" fill="#0c0c0c"/>
<path d="M742 470 L814.5 470 L814.5 501 L778 501 Z" fill="#3a3837"/>
<path d="M779.7 475.4 L809.5 475.4 L809.5 484 L787 484Z" fill="#2a2827" stroke="#080808" stroke-width="1.1"/>
<path d="M771 490.3 L791 490.3 L791 498 L777.5 498Z" fill="#2a2827" stroke="#080808" stroke-width="1.1"/>
<rect x="783" y="501" width="31" height="3" fill="#1a1919"/>
<circle cx="764" cy="476" r="2.2" fill="#6a6866"/>
<circle cx="805.5" cy="496" r="2.6" fill="#7a7876"/>
<circle cx="805.5" cy="496" r="1" fill="#333"/>
<rect x="820.2" y="434.9" width="22.5" height="34.8" rx="3" fill="url(#gSilver)"/>
<rect x="821" y="437.5" width="21" height="1.1" fill="#8d8d8d" opacity="0.75"/>
<rect x="821" y="441.5" width="21" height="1.1" fill="#8d8d8d" opacity="0.75"/>
<rect x="821" y="445.5" width="21" height="1.1" fill="#8d8d8d" opacity="0.75"/>
<rect x="821" y="449.5" width="21" height="1.1" fill="#8d8d8d" opacity="0.75"/>
<rect x="821" y="453.5" width="21" height="1.1" fill="#8d8d8d" opacity="0.75"/>
<rect x="821" y="457.5" width="21" height="1.1" fill="#8d8d8d" opacity="0.75"/>
<rect x="821" y="461.5" width="21" height="1.1" fill="#8d8d8d" opacity="0.75"/>
<rect x="821" y="465.5" width="21" height="1.1" fill="#8d8d8d" opacity="0.75"/>
<circle cx="833.5" cy="446" r="1.6" fill="#b83424"/>
<rect x="842" y="438" width="9" height="27" rx="2" fill="url(#gSilver)"/>
<path d="M850 441 L858 445 Q864 447 864 454 Q864 461 858 463 L850 465Z" fill="url(#gSilver)"/>
<rect x="851" y="449" width="12" height="2" fill="#777" opacity="0.6"/>
<rect x="698" y="489.5" width="16" height="8.2" fill="#3a3837"/>
<rect x="700" y="490" width="13" height="3" fill="#b9b7b5"/>
<rect x="746" y="489.5" width="16" height="8" rx="2" fill="#6b6967"/>
<rect x="746" y="490" width="14" height="2.8" rx="1.2" fill="#d0cecc"/>
<path d="M712 481.6 L747 481.6 Q744.6 494 747 506.8 L712 506.8 Q714.4 494 712 481.6Z" fill="url(#gValve)"/>
<path d="M712.3 482 Q729.5 486 746.7 482 L746.7 484.3 Q729.5 488 712.3 484.3Z" fill="#d2301c"/>
<rect x="715.5" y="483.5" width="1" height="22.5" fill="#6e1408" opacity="0.5"/>
<rect x="719.5" y="483.5" width="1" height="22.5" fill="#6e1408" opacity="0.5"/>
<rect x="723.5" y="483.5" width="1" height="22.5" fill="#6e1408" opacity="0.5"/>
<rect x="727.5" y="483.5" width="1" height="22.5" fill="#6e1408" opacity="0.5"/>
<rect x="731.5" y="483.5" width="1" height="22.5" fill="#6e1408" opacity="0.5"/>
<rect x="735.5" y="483.5" width="1" height="22.5" fill="#6e1408" opacity="0.5"/>
<rect x="739.5" y="483.5" width="1" height="22.5" fill="#6e1408" opacity="0.5"/>
<rect x="743.5" y="483.5" width="1" height="22.5" fill="#6e1408" opacity="0.5"/>
<rect x="713.5" y="492.3" width="32" height="3" fill="#fba23a" opacity="0.75"/>
<path d="M905 480 L1108 480 L1104 520 Q1100 570 1097 605 L1084 607.5 L1069 604.5 Z" fill="#111110"/>
<path d="M912 483.5 L966 486 L1056 566 Q1064 571.5 1072 568 L1078 566 L1081 488 L1103 488 L1095 600 L1070 601 Z" fill="#45433d"/>
<path d="M920 488 L1071 598" stroke="#6a685f" stroke-width="1.4" fill="none"/>
<path d="M969 496 L1058 572 Q1066 577 1075 572" stroke="#1a1918" stroke-width="2.2" fill="none"/>
<path d="M971.4 486 L1086 486 Q1084 530 1077.4 562.4 Q1074 571 1064.6 570 Q1060 568.5 1056 563 Z" fill="#0d0d0c"/>
<path d="M976.5 488 L1082.5 488 Q1081 530 1074.8 560.5 Q1072 567.5 1065 567 Q1061 566 1057.5 561.5 Z" fill="#fff"/>
<path d="M1086 487 L1104 487 L1096 572 L1078 572Z" fill="#33312d"/>
<path d="M1084 487 L1087.5 487 L1080 564 L1076.5 564Z" fill="#55534c"/>
<path d="M969 500 L999 523.5 L994.5 532 L963 509.5Z" fill="#56544c"/>
<path d="M963 509.5 L969 500" stroke="#0a0a0a" stroke-width="1.2"/>
<text x="0" y="0" transform="translate(972,511.5) rotate(37.5)" font-family="'Liberation Sans', Arial, sans-serif" font-style="italic" font-weight="bold" font-size="6.5" textLength="21" lengthAdjust="spacingAndGlyphs" fill="#2a2926">TCA-36</text>
<path d="M996.5 527 L1040 557.5 L1037 562.5 L993.5 532.5Z" fill="#0d0d0c"/>
<path d="M998.5 529.5 L1037.5 557 L1035.8 560.2 L996.5 532.8Z" fill="#fff"/>
<path d="M1088 496.5 L1098.3 496.5 L1092 547 L1084.5 547Z" fill="#0d0d0c"/>
<path d="M1090.8 498.5 L1096.3 498.5 L1090.3 545 L1086.5 545Z" fill="#f4f4f4"/>
<path d="M1093 500 L1095.2 500 L1090 544 L1088 544Z" fill="#8a8880"/>
<path d="M1103 482 L1117 484 L1102 606 L1094 606Z" fill="#0f0f0e"/>
<path d="M1110.5 486.5 L1116.5 487.3 Q1118.0 489.1 1116.5 491.1 L1110.5 491.9Z" fill="#5a5850"/>
<path d="M1109.6 493.5 L1115.6 494.3 Q1117.1 496.1 1115.6 498.1 L1109.6 498.9Z" fill="#5a5850"/>
<path d="M1108.7 500.5 L1114.7 501.3 Q1116.2 503.1 1114.7 505.1 L1108.7 505.9Z" fill="#5a5850"/>
<path d="M1107.8 507.5 L1113.8 508.3 Q1115.3 510.1 1113.8 512.1 L1107.8 512.9Z" fill="#5a5850"/>
<path d="M1106.9 514.5 L1112.9 515.3 Q1114.4 517.1 1112.9 519.1 L1106.9 519.9Z" fill="#5a5850"/>
<path d="M1106.0 521.5 L1112.0 522.3 Q1113.5 524.1 1112.0 526.1 L1106.0 526.9Z" fill="#5a5850"/>
<path d="M1105.1 528.5 L1111.1 529.3 Q1112.6 531.1 1111.1 533.1 L1105.1 533.9Z" fill="#5a5850"/>
<path d="M1104.2 535.5 L1110.2 536.3 Q1111.7 538.1 1110.2 540.1 L1104.2 540.9Z" fill="#5a5850"/>
<path d="M1103.3 542.5 L1109.3 543.3 Q1110.8 545.1 1109.3 547.1 L1103.3 547.9Z" fill="#5a5850"/>
<path d="M1102.4 549.5 L1108.4 550.3 Q1109.9 552.1 1108.4 554.1 L1102.4 554.9Z" fill="#5a5850"/>
<path d="M1101.5 556.5 L1107.5 557.3 Q1109.0 559.1 1107.5 561.1 L1101.5 561.9Z" fill="#5a5850"/>
<path d="M1100.6 563.5 L1106.6 564.3 Q1108.1 566.1 1106.6 568.1 L1100.6 568.9Z" fill="#5a5850"/>
<path d="M1099.7 570.5 L1105.7 571.3 Q1107.2 573.1 1105.7 575.1 L1099.7 575.9Z" fill="#5a5850"/>
<path d="M1098.8 577.5 L1104.8 578.3 Q1106.3 580.1 1104.8 582.1 L1098.8 582.9Z" fill="#5a5850"/>
<path d="M1097.9 584.5 L1103.9 585.3 Q1105.4 587.1 1103.9 589.1 L1097.9 589.9Z" fill="#5a5850"/>
<path d="M1097.0 591.5 L1103.0 592.3 Q1104.5 594.1 1103.0 596.1 L1097.0 596.9Z" fill="#5a5850"/>
<path d="M1096.1 598.5 L1102.1 599.3 Q1103.6 601.1 1102.1 603.1 L1096.1 603.9Z" fill="#5a5850"/>
<path d="M1103.5 484 L1109 484 L1097 604 L1094.5 604Z" fill="#0a0a0a"/>
<circle cx="953.3" cy="487.3" r="9.2" fill="#3a3835" stroke="#080808" stroke-width="1.4"/>
<circle cx="953.3" cy="487.3" r="4.8" fill="#b4b2ae" stroke="#1c1b1a" stroke-width="1.3"/>
<circle cx="953.3" cy="487.3" r="2" fill="#6a6865" stroke="#e0e0e0" stroke-width="0.7"/>
<path d="M924.5 482.5 L937.5 483.5 L937.5 493.5Z" fill="#2a2926" stroke="#080808" stroke-width="1.4"/>
<path d="M1066 592 L1101 592 L1099.5 606 Q1088 610.5 1071 606.5 Q1065 601 1066 592Z" fill="#141413"/>
<path d="M1070 596 L1078 590 L1092 590 L1092 603 L1074 603Z" fill="#3f3d38"/>
<ellipse cx="1081.6" cy="596.8" rx="3" ry="3.4" fill="#f2f2f2"/>
<ellipse cx="1087" cy="597" rx="3" ry="3" fill="#8a8880"/>
<path d="M1080.5 577 L1092 575 L1091.5 583 L1081 584Z" fill="#0b0b0b"/>
<rect x="1083" y="578.5" width="7" height="4" fill="#55534c"/>
<rect x="862" y="425.3" width="259" height="59" rx="10" fill="#0b0b0b"/>
<rect x="871" y="438" width="233" height="26" fill="url(#gBand)"/>
<ellipse cx="868.5" cy="454.5" rx="7" ry="29.5" fill="#0a0a0a"/>
<path d="M866 432 Q872 454 866 477" fill="none" stroke="#3a3837" stroke-width="1.5"/>
<path d="M872 440 L886 438 L886 464 L872 470Z" fill="#0b0b0b" opacity="0.7"/>
<path d="M1104 425.5 Q1121 427 1121 445 L1121 466 Q1121 482 1108 484 L1100 484 L1100 425.5Z" fill="#0d0d0d"/>
<rect x="1105" y="427" width="3" height="55" fill="#2e2d2b"/>
<rect x="1113" y="436" width="4" height="36" rx="2" fill="#1f1e1d"/>
<rect x="943.3" y="438" width="1.8" height="45" fill="#050505"/>
<rect x="970.3" y="438" width="1.6" height="45" fill="#050505"/>
<rect x="945.2" y="440" width="25" height="23" fill="#4a4845" opacity="0.7"/>
<path d="M1040 466 L1094 466 L1094 470 L1044 470Z" fill="#2a2927"/>
<rect x="876" y="439" width="61" height="11" rx="5.5" fill="#090909"/>
<rect x="878.5" y="441" width="57" height="7.6" rx="3.8" fill="#f0f0f0"/>
<path d="M880 442.2 L905 442.2 L905 447.8 L883 447.8Z" fill="#6a6a5e"/>
<path d="M918 449 L921 445 L935 445" fill="none" stroke="#141414" stroke-width="1.7"/>
<rect x="978" y="439" width="62" height="11" rx="5.5" fill="#090909"/>
<rect x="980.5" y="441" width="57.5" height="7.6" rx="3.8" fill="#e4e4e2"/>
<path d="M1003 449 L1005 445 L1016 445 L1018 449" fill="none" stroke="#141414" stroke-width="1.7"/>
<rect x="1045.5" y="439" width="50" height="11" rx="5.5" fill="#090909"/>
<rect x="1048" y="441" width="45.5" height="7.6" rx="3.8" fill="#ececea"/>
<path d="M1052 449 Q1054 445 1060 445 L1078 445 Q1084 445 1086 441" fill="none" stroke="#141414" stroke-width="1.7"/>
<rect x="1099.5" y="446.8" width="7" height="10.2" fill="#ededed" stroke="#5a5a58" stroke-width="0.9"/></g>
<clipPath id="insClip"><path d="M761.4 652.2 L1092 652.2 L1092 655.2 L1030 658 Q1019 664 1014 675 Q1006 690 1004 709 L1002.4 741 L1004 750.6 L1006.4 757 L993.8 763.4 L993.8 817.6 L761.4 817.6Z"/></clipPath>
<g clip-path="url(#insClip)"><g filter="url(#soft2)"><path d="M761.4 652.2 L1092 652.2 L1092 655.2 L1030 658 Q1019 664 1014 675 Q1006 690 1004 709 L1002.4 741 L1004 750.6 L1006.4 757 L993.8 763.4 L993.8 817.6 L761.4 817.6Z" fill="#30271f"/>
<path d="M761 659 L873 659 L873 728 L850 735 L761 741Z" fill="#2d251e"/>
<path d="M761 690 L873 676 L873 712 L761 728Z" fill="#352b24"/>
<path d="M761 735 L850 731 L850 740 L795 742 L790 748 L761 748Z" fill="#241c19"/>
<path d="M926.4 673.8 L1007 673.8 L1003 741 L1004 748 L940 766 L926 748Z" fill="#382c25"/>
<path d="M926.4 672 L1010 672 L1010 675 L926.4 675Z" fill="#55463d"/>
<rect x="929" y="686.5" width="64" height="2.6" fill="#7a6a60" opacity="0.55"/>
<rect x="930" y="694.5" width="60" height="2.6" fill="#7a6a60" opacity="0.55"/>
<rect x="929" y="702.5" width="70" height="2.6" fill="#7a6a60" opacity="0.55"/>
<rect x="930" y="710.5" width="58" height="2.6" fill="#7a6a60" opacity="0.55"/>
<rect x="929" y="718.5" width="68" height="2.6" fill="#7a6a60" opacity="0.55"/>
<rect x="930" y="726.5" width="62" height="2.6" fill="#7a6a60" opacity="0.55"/>
<rect x="929" y="734.5" width="72" height="2.6" fill="#7a6a60" opacity="0.55"/>
<path d="M921.5 671 L926.5 671 L923 745 L915 755Z" fill="#1e1714"/>
<path d="M885 796 L994 762 L994 817.6 L885 817.6Z" fill="#43342b"/>
<path d="M940 780 L946 778 L944 817.6 L938 817.6Z" fill="#3a2c25"/>
<path d="M897 788 L1006 753.5 L1006.5 758 L994 764 L899 795Z" fill="#120d0b"/>
<path d="M897 783.5 L1004 749.5 L1006 753.5 L897 788Z" fill="#2a201c"/>
<path d="M899 797 L994 766 L994 769 L899 800Z" fill="#6a564a" opacity="0.6"/>
<path d="M872.6 657.8 L881.4 659.5 L880.5 726.6 L872 726.6Z" fill="#8e8984"/>
<path d="M881 670 L912 674 L910 725 L881 725Z" fill="#15100e"/>
<path d="M907.5 677 L921.4 673.5 L920 725 L907 723Z" fill="#8f8a85"/>
<path d="M910.5 688 L915.5 687 L915.2 715 L910.5 715Z" fill="#1a1412"/>
<path d="M880 725 L921 725 L919 733 L880 733Z" fill="#4a4039"/>
<ellipse cx="887" cy="669.5" rx="5" ry="2.6" fill="#8a8580"/>
<path d="M761.4 747.4 L785 747.4 Q789.6 748.5 789.6 754 L788 790 Q785 806 781 817.6 L761.4 817.6Z" fill="#f7961c"/>
<path d="M761.4 747.4 L770 747.4 L768 817.6 L761.4 817.6Z" fill="#f9a52a"/>
<ellipse cx="769.5" cy="813" rx="2.4" ry="4.2" fill="#2a211e"/>
<path d="M789 752 Q795 770 790 800 L784 817.6 L800 817.6 L802 800 Q794 780 797 752Z" fill="#2a211d"/>
<path d="M800 748 Q806 739 814 740 Q808 765 816 790 L810 793 Q797 778 800 748Z" fill="#fff"/>
<path d="M816 735 L848 731 L848 817.6 L815 817.6 L815 795 Q824 770 816 735Z" fill="#e4461a"/>
<path d="M816 737 L835 733.5 L835 790 L818 793 Q826 770 816 737Z" fill="#f0801e"/>
<path d="M815 800 L832 798 L832 817.6 L815 817.6Z" fill="#f07a1e"/>
<path d="M812.6 742 Q818 731.5 827 731.4 Q820 750 822 770 Q824 782 831 786 L824 790 Q811 780 812.6 742Z" fill="#1d1614"/>
<path d="M848 733 Q866 723 886 731 Q892 760 886 783 L872 791 L850 789Z" fill="#4a3e38"/>
<path d="M848 735 Q856 730 863 729.5 Q872 760 864 790 L850 789Z" fill="#241b18"/>
<path d="M866 731 Q878 758 870 789" fill="none" stroke="#6a5c54" stroke-width="1.5" opacity="0.7"/>
<rect x="888" y="733" width="17.5" height="62" fill="#19130f"/>
<rect x="889.5" y="737" width="2" height="52" fill="#77706a"/>
<rect x="901.5" y="737" width="2" height="52" fill="#5f5852"/>
<path d="M884 726 L922 726 L920 737 L884 737Z" fill="#1a1310"/>
<path d="M808 796.5 L876 786 L877 791 L812 801.5Z" fill="#0e0b0a"/>
<path d="M850 789 L905 789 L905 817.6 L848 817.6Z" fill="#2e241f"/>
<circle cx="781.4" cy="714.6" r="5.6" fill="#15100f" stroke="#5a4f47" stroke-width="1.6"/>
<circle cx="860" cy="709" r="3.8" fill="#8a817b"/>
<circle cx="833.4" cy="712.2" r="2.3" fill="#1a1412"/>
<rect x="775" y="695" width="13" height="4.5" fill="#5a4f48" opacity="0.8"/>
<rect x="793" y="712" width="17" height="4.5" fill="#5a4f48" opacity="0.8"/>
<path d="M761.4 652.2 L1092 652.2 L1092 655.2 L1030 658 L1024 660.5 L761.4 659.5Z" fill="#0d0a09"/>
<path d="M1026 654 L1092 653 L1092 655.2 L1030 658Z" fill="#5a4a40"/></g></g>
<line x1="63" y1="369" x2="83" y2="432" stroke="#e7693f" stroke-width="3.7" stroke-linecap="butt"/>
<circle cx="83" cy="432" r="5.5" fill="#e7693f"/>
<line x1="76" y1="508" x2="41" y2="468" stroke="#e7693f" stroke-width="3.7" stroke-linecap="butt"/>
<circle cx="41" cy="468" r="5.5" fill="#e7693f"/>
<line x1="310" y1="361" x2="313" y2="412" stroke="#e7693f" stroke-width="3.7" stroke-linecap="butt"/>
<circle cx="313" cy="412" r="5.5" fill="#e7693f"/>
<line x1="540" y1="343" x2="584" y2="370" stroke="#e7693f" stroke-width="3.7" stroke-linecap="butt"/>
<circle cx="584" cy="370" r="5.5" fill="#e7693f"/>
<line x1="713" y1="376" x2="676" y2="412" stroke="#e7693f" stroke-width="3.7" stroke-linecap="butt"/>
<circle cx="676" cy="412" r="5.5" fill="#e7693f"/>
<line x1="956" y1="395" x2="919" y2="431.5" stroke="#e7693f" stroke-width="3.7" stroke-linecap="butt"/>
<circle cx="919" cy="431.5" r="5.5" fill="#e7693f"/>
<line x1="745.5" y1="531" x2="727" y2="506" stroke="#e7693f" stroke-width="3.7" stroke-linecap="butt"/>
<circle cx="727" cy="506" r="5.5" fill="#e7693f"/>
<line x1="733" y1="591" x2="627.5" y2="511" stroke="#e7693f" stroke-width="3.7" stroke-linecap="butt"/>
<circle cx="627.5" cy="511" r="5.5" fill="#e7693f"/>
<line x1="563.5" y1="609" x2="563.5" y2="555.5" stroke="#e7693f" stroke-width="3.7" stroke-linecap="butt"/>
<circle cx="563.5" cy="555.5" r="5.5" fill="#e7693f"/>
<line x1="679" y1="678.5" x2="659" y2="629" stroke="#e8703a" stroke-width="3.7" stroke-linecap="butt"/>
<circle cx="659" cy="629" r="5.5" fill="#e8703a"/>
<line x1="237" y1="640" x2="237" y2="588" stroke="#e7693f" stroke-width="3.7" stroke-linecap="butt"/>
<circle cx="237" cy="588" r="5.5" fill="#e7693f"/>
<line x1="340" y1="739" x2="382" y2="709" stroke="#e7693f" stroke-width="3.7" stroke-linecap="butt"/>
<circle cx="382" cy="709" r="5.5" fill="#e7693f"/>
<line x1="726.5" y1="806" x2="894.2" y2="697.8" stroke="#e7693f" stroke-width="3.7" stroke-linecap="butt"/>
<circle cx="894.2" cy="697.8" r="5.5" fill="#e7693f"/>
<g font-family="'Liberation Sans', Arial, sans-serif" fill="#1c1b22"><text x="28.0" y="359.5" font-size="28" textLength="70.0" lengthAdjust="spacingAndGlyphs">Barrel</text>
<text x="44.0" y="532" font-size="28" textLength="61.0" lengthAdjust="spacingAndGlyphs">Flash</text>
<text x="8.5" y="560" font-size="28" textLength="132.0" lengthAdjust="spacingAndGlyphs">Suppressor</text>
<text x="186.0" y="356.5" font-size="28" textLength="221.0" lengthAdjust="spacingAndGlyphs">M-LOK Hand Guard</text>
<text x="414.0" y="342" font-size="28" textLength="119.0" lengthAdjust="spacingAndGlyphs">Rear Sight</text>
<text x="666.0" y="370" font-size="28" textLength="194.0" lengthAdjust="spacingAndGlyphs">Charging Handle</text>
<text x="956.2" y="393" font-size="28" textLength="35.0" lengthAdjust="spacingAndGlyphs">CO</text>
<text x="991.8" y="403.5" font-size="15.5" textLength="8.6" lengthAdjust="spacingAndGlyphs">2</text>
<text x="1008.5" y="393" font-size="28" textLength="108.0" lengthAdjust="spacingAndGlyphs">Buttstock</text>
<text x="745.7" y="555.7" font-size="28" textLength="36.0" lengthAdjust="spacingAndGlyphs">CO</text>
<text x="782.3" y="566.2" font-size="15.5" textLength="8.6" lengthAdjust="spacingAndGlyphs">2</text>
<text x="797.3" y="555.7" font-size="28" textLength="160.5" lengthAdjust="spacingAndGlyphs">ON-OFF Valve</text>
<text x="736.0" y="604" font-size="28" textLength="257.0" lengthAdjust="spacingAndGlyphs">Safety Selector Switch</text>
<text x="529.0" y="633" font-size="28" textLength="81.0" lengthAdjust="spacingAndGlyphs">Trigger</text>
<text x="621.5" y="704.5" font-size="28" textLength="118.5" lengthAdjust="spacingAndGlyphs">Pistol Grip</text>
<text x="193.5" y="664.5" font-size="28" textLength="87.0" lengthAdjust="spacingAndGlyphs">Vertical</text>
<text x="213.0" y="692" font-size="28" textLength="47.5" lengthAdjust="spacingAndGlyphs">Grip</text>
<text x="228.0" y="754" font-size="28" textLength="112.0" lengthAdjust="spacingAndGlyphs">Magazine</text>
<text x="426.0" y="812" font-size="28" textLength="293.0" lengthAdjust="spacingAndGlyphs">Magazine Release Button</text></g>
</svg>
</body></html>
